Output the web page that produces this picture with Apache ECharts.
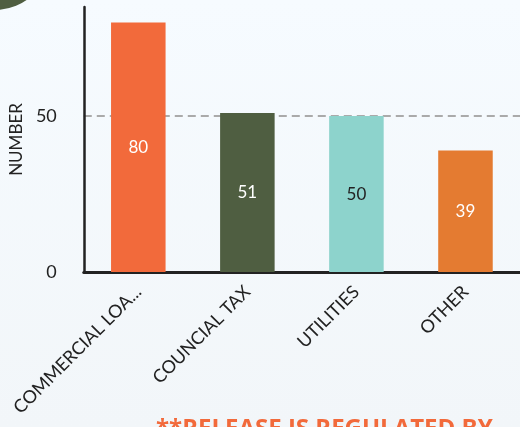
<!DOCTYPE html>
<html>
<head>
<meta charset="utf-8">
<script src="https://cdn.jsdelivr.net/npm/echarts@6/dist/echarts.min.js"></script>
<style>
  html, body { margin: 0; padding: 0; background: #f5faff; }
  #chart { width: 520px; height: 427px; }
</style>
</head>
<body>
<div id="chart"></div>
<script>
// data
const categories = ["COMMERCIAL LOANS", "COUNCIAL TAX", "UTILITIES", "OTHER"];
const values = [80, 51, 50, 39];
const barColors = ["#F26A3B", "#4F5E41", "#8DD3CC", "#E47B31"];
const labelColors = ["#ffffff", "#ffffff", "#222222", "#ffffff"];
const footerText = "**RELEASE IS REGULATED BY";

const chart = echarts.init(document.getElementById("chart"));

let seriesData = values.map((v, i) => ({
  value: v,
  itemStyle: { color: barColors[i] },
  label: { color: labelColors[i] },
}));

const option = {
  backgroundColor: {
    type: "linear", x: 0, y: 0, x2: 0, y2: 1,
    colorStops: [
      { offset: 0, color: "#f6fbff" },
      { offset: 1, color: "#f2f6f9" },
    ],
  },
  textStyle: { fontFamily: "Lato" },
  grid: { left: 83, right: -4, top: 7, bottom: 155 },
  graphic: [
    {
      type: "circle",
      shape: { cx: -5, cy: -45, r: 55 },
      style: { fill: "#4F5E41" },
    },
    {
      type: "text",
      left: 156,
      top: 417,
      style: {
        text: footerText,
        fill: "#F26A3B",
        font: "bold 24px 'Open Sans'",
      },
    },
  ],
  xAxis: {
    type: "category",
    data: categories,
    axisLine: { lineStyle: { color: "#222", width: 3 } },
    axisTick: { show: false },
    axisLabel: {
      rotate: 45,
      margin: 17,
      color: "#222",
      fontSize: 18,
      fontFamily: "Lato",
      formatter: (v) => (v.length > 15 ? v.slice(0, 14) + "..." : v),
    },
  },
  yAxis: {
    type: "value",
    min: 0,
    max: 85,
    interval: 50,
    name: "NUMBER",
    nameLocation: "middle",
    nameGap: 54,
    nameTextStyle: { color: "#222", fontSize: 17, fontFamily: "Lato" },
    axisLine: { show: true, lineStyle: { color: "#222", width: 2.5 } },
    axisTick: { show: false },
    axisLabel: {
      color: "#222",
      fontSize: 18,
      margin: 27,
      showMaxLabel: false,
    },
    splitLine: {
      showMaxLine: false,
      lineStyle: { color: "#aaa", width: 2, type: [8, 5] },
    },
  },
  series: [
    {
      type: "bar",
      data: seriesData,
      barWidth: "50%",
      label: {
        show: true,
        position: "inside",
        fontSize: 17,
        fontFamily: "Lato",
      },
    },
  ],
};
chart.setOption(option);
</script>
</body>
</html>
